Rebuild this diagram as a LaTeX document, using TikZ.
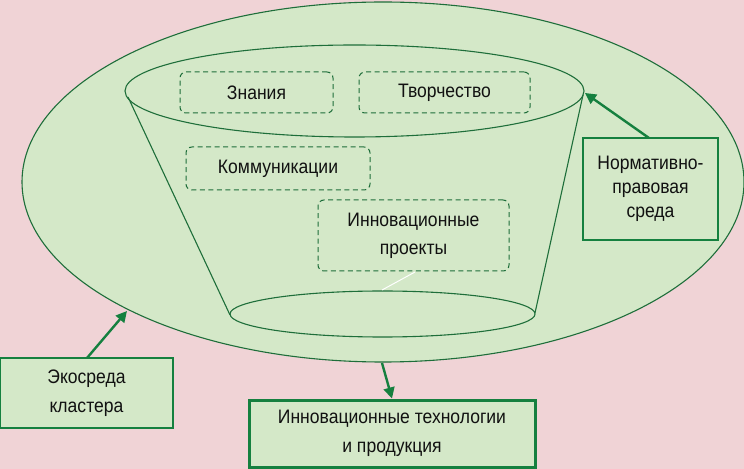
\documentclass[tikz,border=0pt]{standalone}
\usepackage{fontspec}
\setmainfont[FakeStretch=0.9]{Liberation Sans}
\usetikzlibrary{arrows.meta}
\definecolor{bgpink}{HTML}{F0D3D6}
\definecolor{fillgreen}{HTML}{D4E8C8}
\definecolor{linegreen}{HTML}{1E6E3A}
\definecolor{arrgreen}{HTML}{15803F}
\definecolor{txt}{HTML}{111111}
\tikzset{
  outline/.style={draw=linegreen, line width=1.1bp},
  dbox/.style={draw=linegreen, dashed, dash pattern=on 5bp off 3.5bp, line width=1bp, rounded corners=6bp, text=txt, align=center, inner sep=0pt},
  sbox/.style={draw=arrgreen, fill=fillgreen, line width=1.4bp, text=txt, align=center, inner sep=0pt},
  arr/.style={draw=arrgreen, line width=2.4bp, -{Triangle[length=11bp,width=11bp]}},
  lbl/.style={font=\fontsize{19.5bp}{24bp}\selectfont},
  lblw/.style={font=\fontsize{19.5bp}{29bp}\selectfont}
}
\begin{document}
\begin{tikzpicture}[x=1bp,y=-1bp]
\fill[bgpink] (0,0) rectangle (744,469);
\useasboundingbox (0,0) rectangle (744,469);
% outer ellipse
\draw[outline, fill=fillgreen] (383,182) ellipse [x radius=361, y radius=180];
\coordinate (ecoPt) at (127,311);
% funnel sides
\coordinate (tl) at (128,97);
\coordinate (bl) at (230,315);
\coordinate (tr) at (583,95);
\coordinate (br) at (535,313);
\draw[outline] (tl) -- (bl);
\draw[outline] (tr) -- (br);
% top and bottom ellipses
\draw[outline] (354.5,91) ellipse [x radius=229.5, y radius=46];
\draw[outline] (382.5,314) ellipse [x radius=152.5, y radius=23];
\coordinate (normPt) at (585,93);
\coordinate (botPt) at (382,290);
% dashed boxes
\node[dbox, lbl, minimum width=153bp, minimum height=41bp] (zn) at (256.5,92.5) {Знания};
\node[dbox, lbl, minimum width=171bp, minimum height=41bp] (tv) at (444.5,92.5) {Творчество};
\node[dbox, lbl, minimum width=184bp, minimum height=43bp] (km) at (278,168.5) {Коммуникации};
\node[dbox, font=\fontsize{19.5bp}{28bp}\selectfont, minimum width=191bp, minimum height=71bp] (ip) at (413.5,235.5) {Инновационные\\проекты};
\coordinate (ipOut) at (415,272);
\draw[white, line width=1bp] (ipOut) -- (botPt);
% solid boxes
\node[sbox, lbl, minimum width=135bp, minimum height=102bp] (nr) at (650.5,189) {Нормативно-\\правовая\\среда};
\node[sbox, lblw, minimum width=173bp, minimum height=70bp] (ek) at (86.5,393) {Экосреда\\кластера};
\node[sbox, lblw, line width=3bp, minimum width=286bp, minimum height=67bp] (it) at (392,433.5) {Инновационные технологии\\и продукция};
% arrows
\coordinate (nrStart) at (649,138);
\draw[arr] (nrStart) -- (normPt);
\coordinate (ekStart) at (87,358);
\draw[arr] (ekStart) -- (ecoPt);
\coordinate (itStart) at (382,363);
\draw[arr] (itStart) -- (it.north -| 392,400);
\end{tikzpicture}
\end{document}
